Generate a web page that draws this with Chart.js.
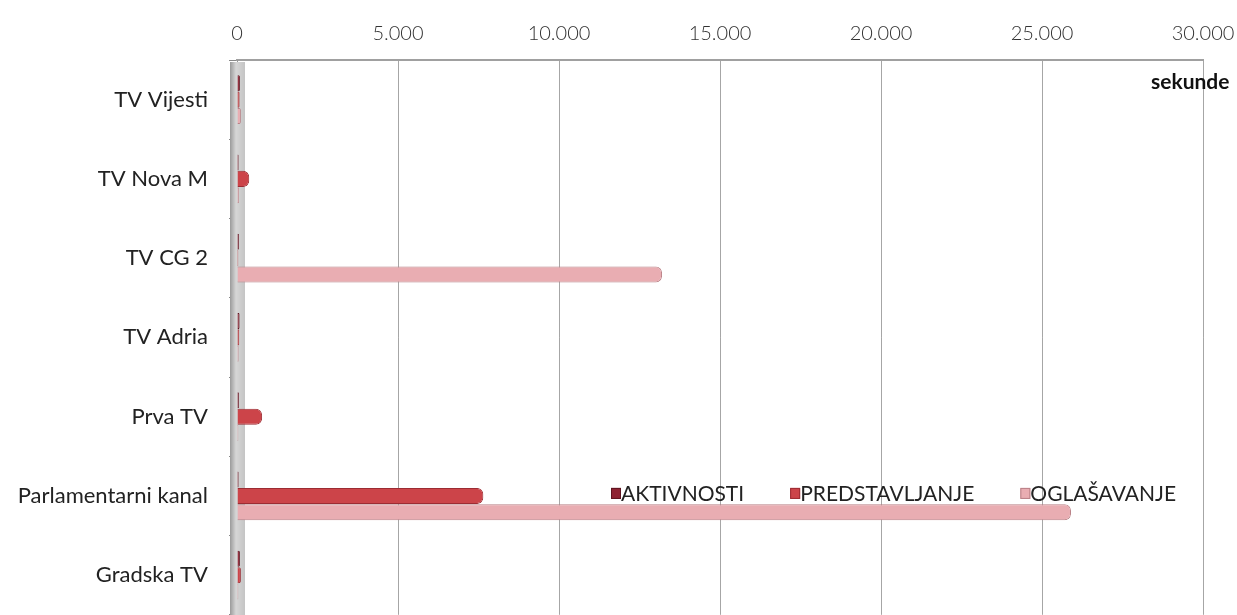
<!DOCTYPE html>
<html>
<head>
<meta charset="utf-8">
<script src="https://cdn.jsdelivr.net/npm/chart.js@4/dist/chart.umd.min.js"></script>
<style>
  html, body { margin: 0; padding: 0; background: #fff; }
  #wrap { width: 1237px; height: 615px; overflow: hidden; }
</style>
</head>
<body>
<div id="wrap"><canvas id="chart" width="1237" height="649"></canvas></div>
<script>
const categories = ['TV Vijesti', 'TV Nova M', 'TV CG 2', 'TV Adria', 'Prva TV', 'Parlamentarni kanal', 'Gradska TV']
const aktivnosti = [90, 50, 60, 80, 60, 50, 90]
const predstavljanje = [80, 380, 40, 70, 780, 7650, 120]
const oglasavanje = [120, 60, 13200, 50, 40, 25900, 40]
const seriesNames = ['AKTIVNOSTI', 'PREDSTAVLJANJE', 'OGLAŠAVANJE']
const xMax = 30000
const xStep = 5000
const unitLabel = 'sekunde'

const fill = ['#8e2232', '#cc4449', '#e9adb2']
const edge = ['#5e1420', '#9c2c33', '#b98086']

const fmt = v => v.toString().replace(/\B(?=(\d{3})+(?!\d))/g, '.')

// grey 3D wall at the value axis origin
const wallPlugin = {
  id: 'wall',
  beforeDatasetsDraw(chart) {
    const { ctx, chartArea } = chart
    const x0 = chart.scales.x.getPixelForValue(0)
    const g = ctx.createLinearGradient(x0 - 7, 0, x0 + 8, 0)
    g.addColorStop(0, '#9a9a9a')
    g.addColorStop(0.4, '#d6d6d6')
    g.addColorStop(1, '#c4c4c4')
    ctx.save()
    ctx.fillStyle = g
    ctx.fillRect(x0 - 7, chartArea.top + 2, 15, chartArea.bottom - chartArea.top)
    ctx.restore()
  }
}

const extrasPlugin = {
  id: 'extras',
  afterDraw(chart) {
    const { ctx, chartArea } = chart
    ctx.save()
    // unit label
    ctx.font = 'bold 21px Lato'
    ctx.fillStyle = '#111'
    ctx.textBaseline = 'middle'
    ctx.fillText(unitLabel, chartArea.right - 52, chartArea.top + 22)
    // legend inside the plot
    ctx.font = '21px Lato'
    let x = chartArea.left + 374
    const y = chart.scales.y.getPixelForValue(5) - 3
    seriesNames.forEach((name, i) => {
      ctx.fillStyle = fill[i]
      ctx.fillRect(x, y - 5, 10, 11)
      ctx.strokeStyle = edge[i]
      ctx.lineWidth = 1
      ctx.strokeRect(x + 0.5, y - 4.5, 9, 10)
      ctx.fillStyle = '#222'
      ctx.fillText(name, x + 10, y + 1)
      x += 10 + ctx.measureText(name).width + 46
    })
    ctx.restore()
  }
}

const datasets = [aktivnosti, predstavljanje, oglasavanje].map((d, i) => ({
  label: seriesNames[i],
  data: d,
  backgroundColor: fill[i],
  borderColor: edge[i],
  borderWidth: 1,
  borderRadius: 6,
  borderSkipped: 'start',
  categoryPercentage: 0.62,
  barPercentage: 0.98
}))

new Chart(document.getElementById('chart'), {
  type: 'bar',
  data: { labels: categories, datasets },
  plugins: [wallPlugin, extrasPlugin],
  options: {
    indexAxis: 'y',
    responsive: false,
    animation: false,
    layout: { padding: { top: 0, right: 0, bottom: 8, left: 0 } },
    plugins: {
      legend: { display: false },
      tooltip: { enabled: false }
    },
    scales: {
      x: {
        position: 'top',
        min: 0,
        max: xMax,
        afterFit: s => { s.height = 60; s.paddingRight = 34; s.paddingLeft = 0 },
        ticks: {
          stepSize: xStep,
          padding: 14,
          color: '#333',
          font: { family: 'Lato', size: 20, weight: '300' },
          callback: v => fmt(v)
        },
        grid: { color: '#a6a6a6', lineWidth: 1, drawTicks: false },
        border: { color: '#a0a0a0', width: 2 }
      },
      y: {
        afterFit: s => { s.width = 237 },
        ticks: {
          padding: 21,
          color: '#222',
          font: { family: 'Lato', size: 22 }
        },
        grid: { drawOnChartArea: false, color: '#888', tickLength: 8, offset: true },
        border: { color: '#999', width: 1 }
      }
    }
  }
})
</script>
</body>
</html>
